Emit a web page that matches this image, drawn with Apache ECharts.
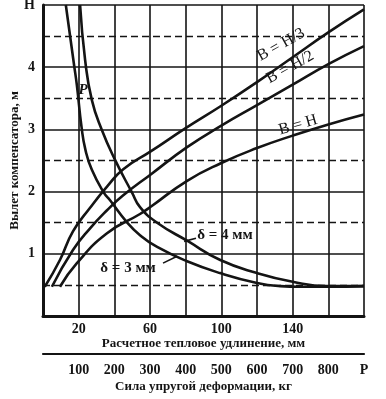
<!DOCTYPE html>
<html><head><meta charset="utf-8">
<script src="https://cdn.jsdelivr.net/npm/echarts@6/dist/echarts.min.js"></script>
<style>html,body{margin:0;padding:0;background:#fff}#c{width:386px;height:399px}</style>
</head><body><div id="c"></div><script>
// ---- data ----
const elongLabels = [20, 60, 100, 140];              // labelled ticks, mm
const forceLabels = [100, 200, 300, 400, 500, 600, 700, 800]; // kg
const yLabels = [1, 2, 3, 4];
const topYLabel = 'H';
const endForceLabel = 'Р';

// rising curves: outreach vs thermal elongation (mm)
const bH3X = [1, 9.5, 16.8, 26.4, 35.9, 45, 60.6, 80, 100, 120, 140, 160, 180];
const bH3Y = [0.47, 0.90, 1.36, 1.74, 2.08, 2.36, 2.65, 3.02, 3.38, 3.76, 4.16, 4.56, 4.93];
const bH2X = [5, 16.8, 26.4, 35.9, 45, 60.6, 80.6, 100, 120, 140, 160, 180];
const bH2Y = [0.47, 1.06, 1.41, 1.70, 1.94, 2.28, 2.71, 3.06, 3.39, 3.72, 4.05, 4.34];
const bHX = [9.5, 19, 35.9, 54.4, 60.6, 80.6, 100, 120, 140, 160, 180];
const bHY = [0.47, 0.85, 1.33, 1.64, 1.76, 2.17, 2.46, 2.70, 2.90, 3.08, 3.24];

// falling curves: outreach vs elastic force P (kg)
const d3P = [64, 87, 95, 108, 119, 137, 171, 188, 235, 272, 320, 404, 496, 600, 665, 720, 800, 900];
const d3Y = [5.0, 4.04, 3.71, 3.04, 2.67, 2.35, 1.98, 1.86, 1.51, 1.30, 1.11, 0.88, 0.69, 0.53, 0.48, 0.47, 0.47, 0.48];
const d4P = [104, 118, 137, 165, 202, 250, 272, 320, 404, 497, 600, 700, 795, 900];
const d4Y = [5.0, 4.12, 3.47, 2.99, 2.51, 1.98, 1.75, 1.50, 1.21, 0.90, 0.69, 0.55, 0.48, 0.48];

const seriesNames = ['B = H/3', 'B = H/2', 'B = H', 'δ = 3 мм', 'δ = 4 мм'];

// ---- chart ----
const zip = (a, b) => a.map((v, i) => [v, b[i]]);
const INK = '#141414';
const FONT = 'Liberation Serif';
const chart = echarts.init(document.getElementById('c'), null, {renderer: 'canvas'});

const lineSeries = (name, data, xi) => ({
  name, type: 'line', xAxisIndex: xi, yAxisIndex: 0, data,
  smooth: 0.5, showSymbol: false, symbol: 'none',
  lineStyle: {color: INK, width: 2.6}, silent: true, animation: false, z: 5
});

chart.setOption({
  animation: false,
  backgroundColor: '#ffffff',
  grid: {left: 43, top: 5, width: 321, height: 311, outerBoundsMode: 'none', containLabel: false},
  xAxis: [{
    type: 'value', min: 0, max: 180, interval: 20, position: 'bottom',
    axisLine: {show: true, onZero: false, lineStyle: {color: INK, width: 3}},
    axisTick: {show: false},
    splitLine: {show: true, lineStyle: {color: INK, width: 1.6}},
    axisLabel: {
      margin: 6, color: INK, fontFamily: FONT, fontWeight: 'bold', fontSize: 14,
      formatter: v => elongLabels.includes(v) ? String(v) : ''
    },
    name: 'Расчетное тепловое удлинение, мм', nameLocation: 'middle', nameGap: 21,
    nameMoveOverlap: false,
    nameTextStyle: {color: INK, fontFamily: FONT, fontWeight: 'bold', fontSize: 13}
  }, {
    type: 'value', min: 0, max: 900, interval: 100, position: 'bottom', offset: 38,
    axisLine: {show: true, onZero: false, lineStyle: {color: INK, width: 2.2}},
    axisTick: {show: false},
    splitLine: {show: false},
    axisLabel: {
      margin: 9, color: INK, fontFamily: FONT, fontWeight: 'bold', fontSize: 14,
      formatter: v => forceLabels.includes(v) ? String(v) : (v === 900 ? endForceLabel : '')
    },
    name: 'Сила упругой деформации, кг', nameLocation: 'middle', nameGap: 26,
    nameMoveOverlap: false,
    nameTextStyle: {color: INK, fontFamily: FONT, fontWeight: 'bold', fontSize: 13}
  }],
  yAxis: [{
    type: 'value', min: 0, max: 5, interval: 1,
    axisLine: {show: true, onZero: false, lineStyle: {color: INK, width: 3}},
    axisTick: {show: false},
    splitLine: {show: true, lineStyle: {color: INK, width: 1.6}},
    minorTick: {show: false, splitNumber: 2},
    minorSplitLine: {show: true, lineStyle: {color: INK, width: 1.4, type: [7, 4]}},
    axisLabel: {
      margin: 8, color: INK, fontFamily: FONT, fontWeight: 'bold', fontSize: 14,
      formatter: v => yLabels.includes(v) ? String(v) : (v === 5 ? topYLabel : '')
    },
    name: 'Вылет компенсатора, м', nameLocation: 'middle', nameGap: 22, nameRotate: 90,
    nameMoveOverlap: false,
    nameTextStyle: {color: INK, fontFamily: FONT, fontWeight: 'bold', fontSize: 13}
  }],
  series: [
    lineSeries(seriesNames[0], zip(bH3X, bH3Y), 0),
    lineSeries(seriesNames[1], zip(bH2X, bH2Y), 0),
    lineSeries(seriesNames[2], zip(bHX, bHY), 0),
    lineSeries(seriesNames[3], zip(d3P, d3Y), 1),
    lineSeries(seriesNames[4], zip(d4P, d4Y), 1)
  ]
});

// ---- annotations anchored in data space (mm axis, outreach axis) ----
const px = (x, y) => chart.convertToPixel({xAxisIndex: 0, yAxisIndex: 0}, [x, y]);
const deg = d => d * Math.PI / 180;
const txt = (x, y, text, rotDeg, size, style) => {
  const p = px(x, y);
  return {
    type: 'text', x: p[0], y: p[1], rotation: deg(rotDeg || 0), z: 10,
    style: {text, fill: INK, font: (style || '') + ' ' + (size || 14) + 'px "Liberation Serif"',
      align: 'center', verticalAlign: 'middle'}
  };
};
const seg = (x1, y1, x2, y2) => {
  const a = px(x1, y1), b = px(x2, y2);
  return {type: 'line', z: 10, shape: {x1: a[0], y1: a[1], x2: b[0], y2: b[1]},
    style: {stroke: INK, lineWidth: 1.6}};
};
chart.setOption({
  graphic: [
    txt(133.5, 4.36, seriesNames[0], 29, 16),
    txt(138.5, 4.00, seriesNames[1], 29, 16),
    txt(143, 3.07, seriesNames[2], 16, 16),
    txt(47.7, 0.77, seriesNames[3], 0, 15, 'bold'),
    txt(102, 1.30, seriesNames[4], 0, 15, 'bold'),
    seg(67.3, 0.85, 75.2, 0.96),
    seg(85.8, 1.25, 79.1, 1.20),
    txt(22.5, 3.63, 'P', 0, 15, 'italic bold')
  ]
});
</script></body></html>
